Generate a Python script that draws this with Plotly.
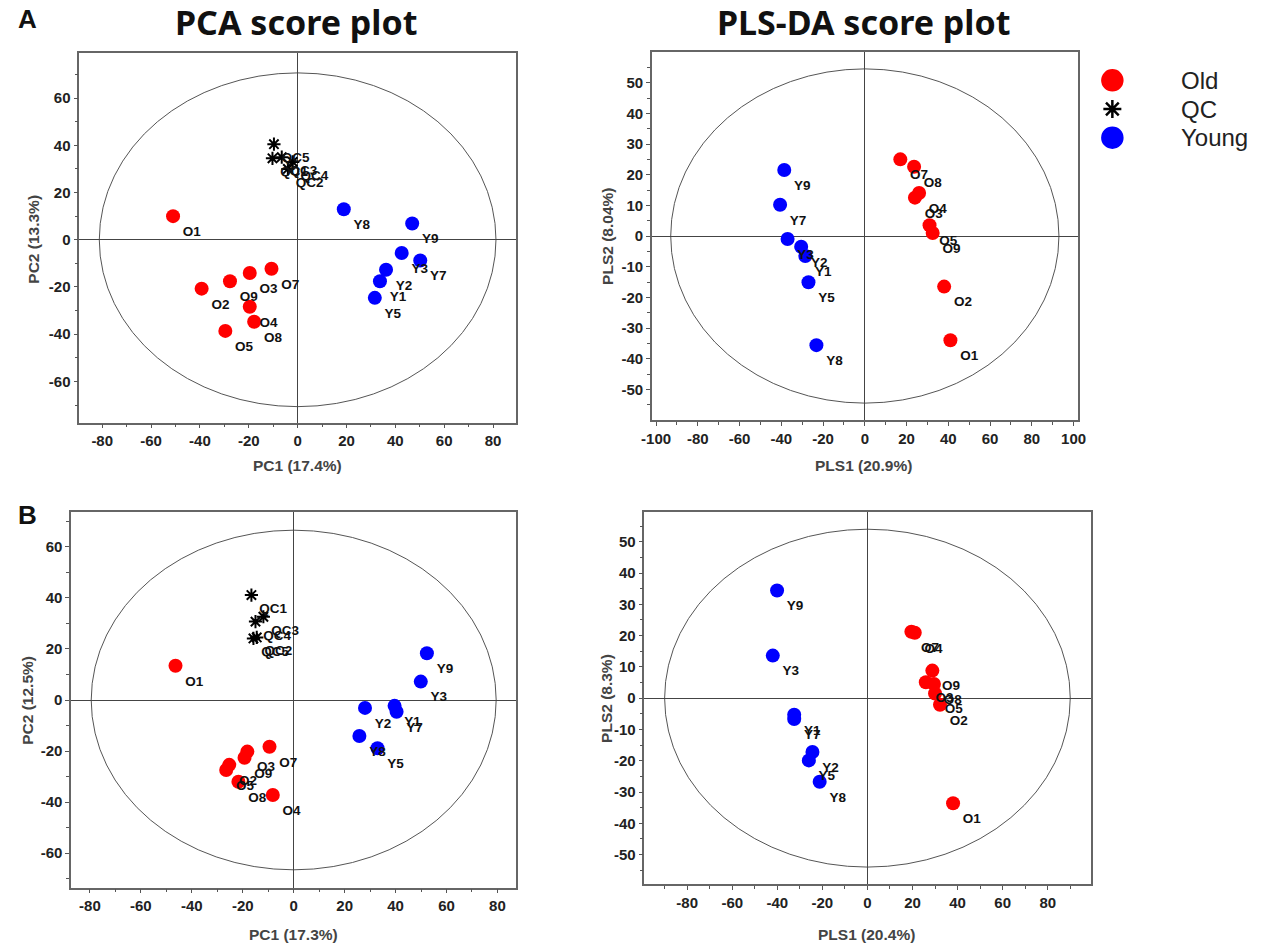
import plotly.graph_objects as go

W, H = 1265, 947

# ---------------- Panel A : PCA ----------------
a_pca_old_labels = ["O1", "O2", "O3", "O4", "O5", "O7", "O8", "O9"]
a_pca_old_x = [-51.0, -39.3, -19.6, -19.6, -29.6, -10.7, -17.8, -27.7]
a_pca_old_y = [10.0, -20.7, -14.1, -28.4, -38.6, -12.3, -34.7, -17.6]
a_pca_qc_labels = ["QC1", "QC2", "QC3", "QC4", "QC5"]
a_pca_qc_x = [-10.3, -4.0, -6.5, -2.0, -9.7]
a_pca_qc_y = [34.5, 30.0, 35.0, 33.0, 40.5]
a_pca_young_labels = ["Y1", "Y2", "Y3", "Y5", "Y7", "Y8", "Y9"]
a_pca_young_x = [33.7, 36.2, 42.6, 31.6, 50.2, 18.9, 46.9]
a_pca_young_y = [-17.6, -12.7, -5.6, -24.6, -8.8, 12.9, 6.9]

# ---------------- Panel A : PLS-DA ----------------
a_pls_old_labels = ["O1", "O2", "O3", "O4", "O5", "O7", "O8", "O9"]
a_pls_old_x = [41.0, 38.0, 24.0, 26.0, 31.0, 17.0, 23.6, 32.5]
a_pls_old_y = [-34.0, -16.5, 12.5, 14.0, 3.5, 25.0, 22.6, 1.0]
a_pls_young_labels = ["Y1", "Y2", "Y3", "Y5", "Y7", "Y8", "Y9"]
a_pls_young_x = [-28.5, -30.5, -37.0, -27.0, -40.6, -23.2, -38.6]
a_pls_young_y = [-6.5, -3.5, -1.0, -15.1, 10.2, -35.6, 21.5]

# ---------------- Panel B : PCA ----------------
b_pca_old_labels = ["O1", "O2", "O3", "O4", "O5", "O7", "O8", "O9"]
b_pca_old_x = [-46.4, -25.3, -18.2, -8.2, -26.5, -9.5, -21.7, -19.3]
b_pca_old_y = [13.4, -25.4, -20.2, -37.2, -27.4, -18.3, -32.0, -22.6]
b_pca_qc_labels = ["QC1", "QC2", "QC3", "QC4", "QC5"]
b_pca_qc_x = [-16.6, -14.5, -11.9, -15.0, -15.8]
b_pca_qc_y = [41.1, 24.5, 32.6, 30.7, 24.1]
b_pca_young_labels = ["Y1", "Y2", "Y3", "Y5", "Y7", "Y8", "Y9"]
b_pca_young_x = [39.6, 28.0, 49.9, 32.9, 40.4, 25.8, 52.3]
b_pca_young_y = [-2.3, -3.1, 7.2, -18.9, -4.6, -14.1, 18.3]

# ---------------- Panel B : PLS-DA ----------------
b_pls_old_labels = ["O1", "O2", "O3", "O4", "O5", "O7", "O8", "O9"]
b_pls_old_x = [38.0, 32.2, 25.9, 21.0, 30.0, 19.5, 29.5, 28.8]
b_pls_old_y = [-33.6, -2.1, 5.1, 20.9, 1.5, 21.2, 4.5, 8.8]
b_pls_young_labels = ["Y1", "Y2", "Y3", "Y5", "Y7", "Y8", "Y9"]
b_pls_young_x = [-32.5, -24.4, -42.0, -26.0, -32.5, -21.2, -40.1]
b_pls_young_y = [-5.3, -17.2, 13.6, -19.9, -6.7, -26.7, 34.4]

# Hotelling T2 ellipse semi-axes (a, b)
a_pca_ellipse = [81.2, 70.7]
a_pls_ellipse = [93.0, 54.5]
b_pca_ellipse = [79.5, 66.5]
b_pls_ellipse = [90.0, 54.0]

# axis ticks
pca_major = [-80, -60, -40, -20, 0, 20, 40, 60, 80]
pca_minor = [-90, -70, -50, -30, -10, 10, 30, 50, 70, 90]
a_pls_x_major = [-100, -80, -60, -40, -20, 0, 20, 40, 60, 80, 100]
b_pls_x_major = [-80, -60, -40, -20, 0, 20, 40, 60, 80]
pls_x_minor = [-90, -70, -50, -30, -10, 10, 30, 50, 70, 90]
pls_y_major = [-50, -40, -30, -20, -10, 0, 10, 20, 30, 40, 50]
pls_y_minor = [-55, -45, -35, -25, -15, -5, 5, 15, 25, 35, 45, 55]

legend_groups = ["Old", "QC", "Young"]

RED = "#ff0000"
BLUE = "#0000ff"
FONT = "Liberation Sans, Arial, sans-serif"


def frac_x(px):
    return px / W


def frac_y(py):
    return 1 - py / H


fig = go.Figure()

panels = [
    dict(ax="", frame=(69.3, 512.7, 53.3, 422.7), xr=[-89.4, 89.4], yr=[-77.5, 79.0],
         xt=pca_major, xm=pca_minor, yt=pca_major, ym=pca_minor, ell=a_pca_ellipse,
         old=(a_pca_old_x, a_pca_old_y, a_pca_old_labels),
         qc=(a_pca_qc_x, a_pca_qc_y, a_pca_qc_labels),
         young=(a_pca_young_x, a_pca_young_y, a_pca_young_labels),
         xtitle="PC1 (17.4%)", ytitle="PC2 (13.3%)", xtp=(291, 465), ytp=(22, 239)),
    dict(ax="2", frame=(650.7, 1083.0, 52.0, 420.0), xr=[-102, 102], yr=[-60, 60],
         xt=a_pls_x_major, xm=pls_x_minor, yt=pls_y_major, ym=pls_y_minor, ell=a_pls_ellipse,
         old=(a_pls_old_x, a_pls_old_y, a_pls_old_labels), qc=None,
         young=(a_pls_young_x, a_pls_young_y, a_pls_young_labels),
         xtitle="PLS1 (20.9%)", ytitle="PLS2 (8.04%)", xtp=(866, 465), ytp=(606, 236)),
    dict(ax="3", frame=(61.0, 513.0, 512.3, 887.7), xr=[-87.4, 87.4], yr=[-73.5, 73.5],
         xt=pca_major, xm=pca_minor, yt=pca_major, ym=pca_minor, ell=b_pca_ellipse,
         old=(b_pca_old_x, b_pca_old_y, b_pca_old_labels),
         qc=(b_pca_qc_x, b_pca_qc_y, b_pca_qc_labels),
         young=(b_pca_young_x, b_pca_young_y, b_pca_young_labels),
         xtitle="PC1 (17.3%)", ytitle="PC2 (12.5%)", xtp=(287, 934), ytp=(16, 700)),
    dict(ax="4", frame=(643.0, 1096.0, 512.0, 884.3), xr=[-99, 99], yr=[-59.5, 59.5],
         xt=b_pls_x_major, xm=pls_x_minor, yt=pls_y_major, ym=pls_y_minor, ell=b_pls_ellipse,
         old=(b_pls_old_x, b_pls_old_y, b_pls_old_labels), qc=None,
         young=(b_pls_young_x, b_pls_young_y, b_pls_young_labels),
         xtitle="PLS1 (20.4%)", ytitle="PLS2 (8.3%)", xtp=(869, 934), ytp=(604, 698)),
]

annotations = []
shapes = []

for p in panels:
    xa = "x" + p["ax"]
    ya = "y" + p["ax"]
    l, r, t, b = p["frame"]
    axis_common = dict(
        showgrid=False, showline=True, mirror=True, linecolor="#666666", linewidth=1.5,
        zeroline=True, zerolinecolor="#444444", zerolinewidth=1,
        ticks="outside", ticklen=4, tickwidth=1, tickcolor="#555555",
        tickfont=dict(family=FONT, size=15, color="#222222", weight="bold"),
        tickmode="array", fixedrange=True,
    )
    xaxis = dict(axis_common, domain=[frac_x(l), frac_x(r)], range=p["xr"], anchor=ya,
                 tickvals=p["xt"], ticktext=[str(v) for v in p["xt"]],
                 minor=dict(tickmode="array", tickvals=p["xm"], ticks="outside", ticklen=3,
                            tickcolor="#555555", tickwidth=1))
    yaxis = dict(axis_common, domain=[frac_y(b), frac_y(t)], range=p["yr"], anchor=xa,
                 tickvals=p["yt"], ticktext=[str(v) for v in p["yt"]],
                 minor=dict(tickmode="array", tickvals=p["ym"], ticks="outside", ticklen=3,
                            tickcolor="#555555", tickwidth=1))
    key = p["ax"]
    fig.layout["xaxis" + key] = xaxis
    fig.layout["yaxis" + key] = yaxis

    ea, eb = p["ell"]
    shapes.append(dict(type="circle", xref=xa, yref=ya, x0=-ea, x1=ea, y0=-eb, y1=eb,
                       line=dict(color="#555555", width=1), layer="below"))

    label_font = dict(family=FONT, size=13.5, color="#111111", weight="bold")
    ox, oy, ol = p["old"]
    fig.add_trace(go.Scatter(x=ox, y=oy, text=ol, mode="markers+text", xaxis=xa, yaxis=ya,
                             textposition="bottom right", textfont=label_font,
                             marker=dict(color=RED, size=14), showlegend=False, name="Old"))
    if p["qc"] is not None:
        qx, qy, ql = p["qc"]
        fig.add_trace(go.Scatter(x=qx, y=qy, text=ql, mode="markers+text", xaxis=xa, yaxis=ya,
                                 textposition="bottom right", textfont=label_font,
                                 marker=dict(symbol="asterisk-open", size=11, color="black",
                                             line=dict(color="black", width=2)),
                                 showlegend=False, name="QC"))
    yx, yy, yl = p["young"]
    fig.add_trace(go.Scatter(x=yx, y=yy, text=yl, mode="markers+text", xaxis=xa, yaxis=ya,
                             textposition="bottom right", textfont=label_font,
                             marker=dict(color=BLUE, size=14), showlegend=False, name="Young"))

    title_font = dict(family=FONT, size=15.5, color="#444444", weight="bold")
    annotations.append(dict(text=p["xtitle"], x=frac_x(p["xtp"][0]), y=frac_y(p["xtp"][1]),
                            xref="paper", yref="paper", showarrow=False, font=title_font,
                            xanchor="center", yanchor="middle"))
    annotations.append(dict(text=p["ytitle"], x=frac_x(p["ytp"][0]), y=frac_y(p["ytp"][1]),
                            xref="paper", yref="paper", showarrow=False, font=title_font,
                            textangle=-90, xanchor="center", yanchor="middle"))

# legend drawn on its own small axis
fig.layout["xaxis5"] = dict(domain=[frac_x(1100), frac_x(1265)], range=[0, 1], visible=False,
                            anchor="y5", fixedrange=True)
fig.layout["yaxis5"] = dict(domain=[frac_y(152), frac_y(66)], range=[2.5, -0.5], visible=False,
                            anchor="x5", fixedrange=True)
legend_symbols = ["circle", "asterisk-open", "circle"]
legend_colors = [RED, "black", BLUE]
legend_sizes = [20, 15, 20]
for i, g in enumerate(legend_groups):
    fig.add_trace(go.Scatter(x=[0.11], y=[i], mode="markers", xaxis="x5", yaxis="y5",
                             marker=dict(symbol=legend_symbols[i], size=legend_sizes[i],
                                         color=legend_colors[i],
                                         line=dict(color=legend_colors[i], width=2.5)),
                             showlegend=False, hoverinfo="skip"))
    annotations.append(dict(text=g, x=0.52, y=i, xref="x5", yref="y5", showarrow=False,
                            xanchor="left", yanchor="middle",
                            font=dict(family=FONT, size=24, color="#222222")))

# panel titles and letters
big = dict(family="Noto Sans, Liberation Sans, sans-serif", size=34, color="#111111", weight="bold")
annotations.append(dict(text="PCA score plot", x=frac_x(289), y=frac_y(22), xref="paper", yref="paper",
                        showarrow=False, font=big, xanchor="center", yanchor="middle"))
annotations.append(dict(text="PLS-DA score plot", x=frac_x(866), y=frac_y(22), xref="paper", yref="paper",
                        showarrow=False, font=big, xanchor="center", yanchor="middle"))
letter = dict(family=FONT, size=26, color="#111111", weight="bold")
annotations.append(dict(text="A", x=frac_x(17), y=frac_y(19), xref="paper", yref="paper",
                        showarrow=False, font=letter, xanchor="center", yanchor="middle"))
annotations.append(dict(text="B", x=frac_x(17), y=frac_y(515), xref="paper", yref="paper",
                        showarrow=False, font=letter, xanchor="center", yanchor="middle"))

fig.update_layout(
    width=W, height=H, margin=dict(l=0, r=0, t=0, b=0),
    paper_bgcolor="white", plot_bgcolor="white",
    shapes=shapes, annotations=annotations, showlegend=False,
)

fig.write_html("out.html", post_script="document.body.style.margin='0';",
               config={"displayModeBar": False})
